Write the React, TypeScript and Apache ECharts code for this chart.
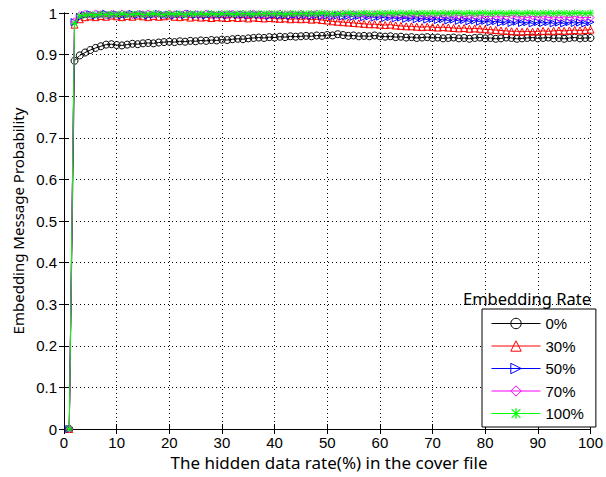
import React, { useEffect, useRef } from 'react';
import * as echarts from 'echarts';

// hidden data rate (%) sample positions
const xValues = [
  1, 2, 3, 4, 5, 6, 7, 8, 9, 10, 11, 12, 13, 14, 15, 16, 17, 18, 19, 20,
  21, 22, 23, 24, 25, 26, 27, 28, 29, 30, 31, 32, 33, 34, 35, 36, 37, 38, 39, 40,
  41, 42, 43, 44, 45, 46, 47, 48, 49, 50, 51, 52, 53, 54, 55, 56, 57, 58, 59, 60,
  61, 62, 63, 64, 65, 66, 67, 68, 69, 70, 71, 72, 73, 74, 75, 76, 77, 78, 79, 80,
  81, 82, 83, 84, 85, 86, 87, 88, 89, 90, 91, 92, 93, 94, 95, 96, 97, 98, 99, 100,
];

const seriesNames = ['0%', '30%', '50%', '70%', '100%'];
const seriesColors = ['#000000', '#ff0000', '#0000ff', '#ff00ff', '#00ff00'];

const rate0 = [
  0, 0.885, 0.898, 0.905, 0.911, 0.916, 0.92, 0.924, 0.925, 0.923,
  0.922, 0.924, 0.926, 0.925, 0.927, 0.928, 0.927, 0.929, 0.93, 0.931,
  0.93, 0.932, 0.931, 0.933, 0.932, 0.934, 0.933, 0.935, 0.934, 0.936,
  0.935, 0.937, 0.938, 0.937, 0.939, 0.94, 0.941, 0.94, 0.942, 0.941,
  0.943, 0.942, 0.944, 0.943, 0.944, 0.945, 0.944, 0.946, 0.945, 0.947,
  0.946, 0.949, 0.947, 0.945, 0.946, 0.944, 0.945, 0.944, 0.946, 0.944,
  0.943, 0.944, 0.942, 0.943, 0.941, 0.942, 0.94, 0.941, 0.942, 0.94,
  0.941, 0.939, 0.94, 0.941, 0.939, 0.94, 0.938, 0.94, 0.941, 0.939,
  0.94, 0.938, 0.939, 0.941, 0.94, 0.938, 0.939, 0.94, 0.941, 0.939,
  0.94, 0.941, 0.939, 0.94, 0.938, 0.94, 0.941, 0.939, 0.94, 0.94,
];

const rate30 = [
  0, 0.972, 0.985, 0.99, 0.992, 0.99, 0.993, 0.991, 0.994, 0.992,
  0.99, 0.993, 0.991, 0.994, 0.992, 0.99, 0.993, 0.991, 0.992, 0.994,
  0.991, 0.99, 0.992, 0.989, 0.991, 0.989, 0.99, 0.988, 0.99, 0.989,
  0.988, 0.99, 0.988, 0.989, 0.987, 0.989, 0.988, 0.987, 0.988, 0.987,
  0.986, 0.987, 0.985, 0.986, 0.985, 0.986, 0.984, 0.985, 0.983, 0.982,
  0.98, 0.979, 0.978, 0.977, 0.976, 0.975, 0.974, 0.973, 0.973, 0.972,
  0.971, 0.972, 0.97, 0.969, 0.968, 0.968, 0.967, 0.966, 0.967, 0.966,
  0.965, 0.966, 0.965, 0.964, 0.963, 0.964, 0.962, 0.963, 0.962, 0.961,
  0.96, 0.959, 0.958, 0.957, 0.956, 0.956, 0.955, 0.956, 0.955, 0.956,
  0.957, 0.956, 0.957, 0.958, 0.957, 0.958, 0.959, 0.958, 0.959, 0.96,
];

const rate50 = [
  0, 0.978, 0.99, 0.995, 0.997, 0.994, 0.996, 0.998, 0.995, 0.997,
  0.994, 0.996, 0.998, 0.995, 0.997, 0.994, 0.996, 0.998, 0.995, 0.996,
  0.994, 0.997, 0.995, 0.998, 0.995, 0.996, 0.994, 0.997, 0.995, 0.996,
  0.994, 0.997, 0.995, 0.996, 0.994, 0.997, 0.995, 0.996, 0.993, 0.996,
  0.994, 0.995, 0.993, 0.996, 0.994, 0.995, 0.993, 0.995, 0.993, 0.994,
  0.992, 0.994, 0.992, 0.993, 0.991, 0.993, 0.99, 0.992, 0.989, 0.991,
  0.988, 0.99, 0.987, 0.989, 0.986, 0.988, 0.985, 0.987, 0.984, 0.986,
  0.983, 0.985, 0.982, 0.984, 0.981, 0.983, 0.98, 0.982, 0.979, 0.981,
  0.978, 0.98, 0.977, 0.979, 0.976, 0.979, 0.976, 0.978, 0.975, 0.978,
  0.976, 0.978, 0.975, 0.977, 0.975, 0.978, 0.976, 0.977, 0.975, 0.978,
];

const rate70 = [
  0, 0.98, 0.995, 0.998, 0.996, 0.999, 0.997, 0.995, 0.998, 0.996,
  0.999, 0.997, 0.995, 0.998, 0.997, 0.999, 0.996, 0.998, 0.995, 0.999,
  0.997, 0.996, 0.999, 0.997, 0.998, 0.996, 0.999, 0.997, 0.995, 0.998,
  0.996, 0.999, 0.997, 0.998, 0.996, 0.999, 0.997, 0.995, 0.998, 0.996,
  0.999, 0.997, 0.998, 0.996, 0.998, 0.995, 0.997, 0.999, 0.996, 0.998,
  0.995, 0.997, 0.999, 0.996, 0.998, 0.995, 0.997, 0.994, 0.997, 0.995,
  0.998, 0.994, 0.996, 0.993, 0.996, 0.994, 0.997, 0.993, 0.995, 0.992,
  0.995, 0.993, 0.996, 0.992, 0.994, 0.991, 0.994, 0.992, 0.995, 0.991,
  0.993, 0.99, 0.993, 0.991, 0.994, 0.99, 0.992, 0.989, 0.992, 0.99,
  0.993, 0.989, 0.991, 0.988, 0.991, 0.989, 0.992, 0.988, 0.99, 0.989,
];

const rate100 = [
  0, 0.975, 0.993, 0.995, 0.996, 0.995, 0.997, 0.996, 0.997, 0.996,
  0.998, 0.996, 0.997, 0.998, 0.996, 0.997, 0.998, 0.997, 0.996, 0.998,
  0.997, 0.998, 0.996, 0.998, 0.997, 0.998, 0.997, 0.999, 0.997, 0.998,
  0.999, 0.997, 0.998, 0.999, 0.998, 0.997, 0.999, 0.998, 0.999, 0.998,
  0.999, 0.997, 0.999, 0.998, 0.999, 0.998, 0.999, 0.998, 1.0, 0.998,
  0.999, 0.998, 0.999, 1.0, 0.998, 0.999, 1.0, 0.999, 0.998, 1.0,
  0.999, 1.0, 0.999, 1.0, 0.999, 1.0, 0.999, 1.0, 0.999, 1.0,
  0.999, 1.0, 0.999, 1.0, 1.0, 0.999, 1.0, 0.999, 1.0, 1.0,
  0.999, 1.0, 1.0, 0.999, 1.0, 1.0, 0.999, 1.0, 1.0, 0.999,
  1.0, 1.0, 0.999, 1.0, 1.0, 0.999, 1.0, 1.0, 0.999, 1.0,
];

const seriesValues = [rate0, rate30, rate50, rate70, rate100];

const xAxisTitle = 'The hidden data rate(%) in the cover file';
const yAxisTitle = 'Embedding Message Probability';
const legendTitle = 'Embedding Rate';

const ASTERISK =
  'path://M4.4,0H5.6V10H4.4Z M0,4.4H10V5.6H0Z M1.2,0.4L9.6,8.8L8.8,9.6L0.4,1.2Z M8.8,0.4L9.6,1.2L1.2,9.6L0.4,8.8Z';
const RIGHT_TRIANGLE = 'path://M0,0L10,5L0,10Z';
const seriesSymbols = ['circle', 'triangle', RIGHT_TRIANGLE, 'diamond', ASTERISK];

const TICK_FONT = 'Liberation Sans';
const TITLE_FONT = 'Noto Sans';

export default function App() {
  const ref = useRef<HTMLDivElement>(null);

  useEffect(() => {
    if (!ref.current) return;
    const chart = echarts.init(ref.current, null, { renderer: 'svg' });

    const series = seriesNames.map((name, i) => {
      const color = seriesColors[i];
      const filled = i === 4;
      return {
        type: 'line',
        name,
        data: xValues.map((x, j) => [x, seriesValues[i][j]]),
        symbol: seriesSymbols[i],
        symbolSize: 7,
        showSymbol: true,
        showAllSymbol: true,
        clip: false,
        lineStyle: { color, width: 1 },
        itemStyle: filled
          ? { color, borderWidth: 0 }
          : { color: 'rgba(0,0,0,0)', borderColor: color, borderWidth: 1 },
        emphasis: { disabled: true },
        z: 2 + i,
      };
    });

    const commonAxisLine = { show: true, lineStyle: { color: '#000', width: 1 } };

    chart.setOption({
      animation: false,
      backgroundColor: '#fff',
      grid: { left: 64, right: 12, top: 13, bottom: 48, containLabel: false },
      xAxis: [
        {
          type: 'value',
          min: 0,
          max: 100,
          interval: 10,
          position: 'bottom',
          axisLine: commonAxisLine,
          axisTick: { show: true, inside: true, length: 5, lineStyle: { color: '#000' } },
          axisLabel: {
            color: '#000',
            fontFamily: TICK_FONT,
            fontSize: 15,
            margin: 6,
          },
          splitLine: { show: true, lineStyle: { color: '#000', width: 1, type: [1, 3] } },
        },
        {
          type: 'value',
          min: 0,
          max: 100,
          interval: 10,
          position: 'top',
          axisLine: commonAxisLine,
          axisTick: { show: true, inside: true, length: 5, lineStyle: { color: '#000' } },
          axisLabel: { show: false },
          splitLine: { show: false },
        },
      ],
      yAxis: [
        {
          type: 'value',
          min: 0,
          max: 1,
          interval: 0.1,
          position: 'left',
          axisLine: commonAxisLine,
          axisTick: { show: true, inside: true, length: 5, lineStyle: { color: '#000' } },
          axisLabel: {
            color: '#000',
            fontFamily: TICK_FONT,
            fontSize: 15,
            margin: 7,
          },
          splitLine: { show: true, lineStyle: { color: '#000', width: 1, type: [1, 3] } },
        },
        {
          type: 'value',
          min: 0,
          max: 1,
          interval: 0.1,
          position: 'right',
          axisLine: commonAxisLine,
          axisTick: { show: true, inside: true, length: 5, lineStyle: { color: '#000' } },
          axisLabel: { show: false },
          splitLine: { show: false },
        },
      ],
      legend: {
        data: seriesNames,
        orient: 'vertical',
        left: 482,
        top: 309,
        padding: [7, 12, 6, 9],
        itemWidth: 49,
        itemHeight: 13,
        itemGap: 7.5,
        backgroundColor: '#fff',
        borderColor: '#000',
        borderWidth: 1,
        borderRadius: 0,
        lineStyle: { width: 1 },
        itemStyle: { borderWidth: 1 },
        textStyle: { color: '#000', fontFamily: TICK_FONT, fontSize: 15 },
        selectedMode: false,
      },
      graphic: [
        {
          type: 'text',
          x: 18,
          y: 221,
          rotation: Math.PI / 2,
          style: {
            text: yAxisTitle,
            fontFamily: TITLE_FONT,
            fontSize: 15,
            fill: '#000',
            align: 'center',
            verticalAlign: 'middle',
          },
        },
        {
          type: 'text',
          x: 329,
          y: 462,
          style: {
            text: xAxisTitle,
            fontFamily: TITLE_FONT,
            fontSize: 17,
            fill: '#000',
            align: 'center',
            verticalAlign: 'middle',
          },
        },
        {
          type: 'text',
          x: 591,
          y: 298,
          z: 100,
          style: {
            text: legendTitle,
            fontFamily: TITLE_FONT,
            fontSize: 16.5,
            fill: '#000',
            align: 'right',
            verticalAlign: 'middle',
          },
        },
      ],
      series,
    });

    return () => chart.dispose();
  }, []);

  return (
    <div
      ref={ref}
      style={{ position: 'fixed', left: 0, top: 0, width: 606, height: 477, background: '#fff' }}
    />
  );
}
